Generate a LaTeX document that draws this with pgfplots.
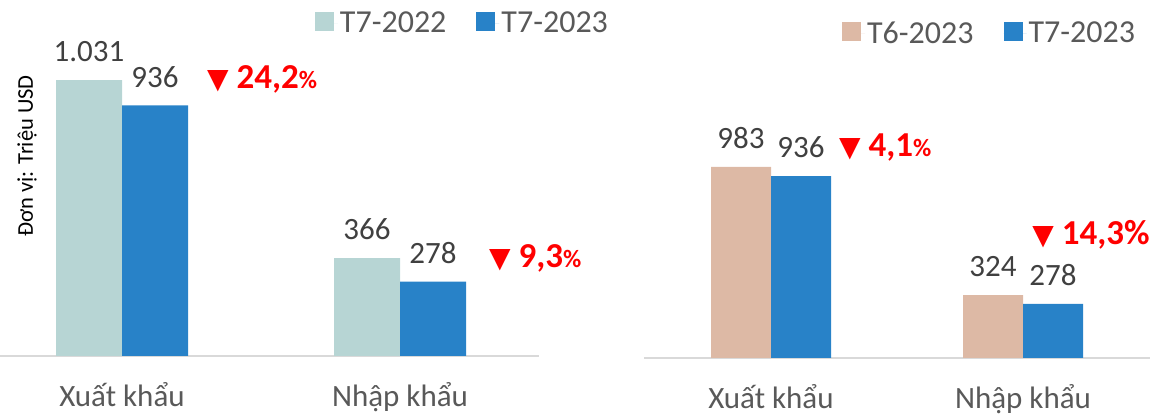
\documentclass[border=0pt]{standalone}
\usepackage{fontspec}
\setmainfont{Carlito}
\newfontfamily\symfont{DejaVu Sans}
\usepackage{pgfplots}
\pgfplotsset{compat=1.18}
\usepackage{pgfplotstable}

\definecolor{teal1}{HTML}{B7D5D4}
\definecolor{blue1}{HTML}{2882C8}
\definecolor{tan1}{HTML}{DDB9A5}
\definecolor{axgray}{HTML}{D9D9D9}
\definecolor{txt}{HTML}{404040}
\definecolor{lab}{HTML}{595959}
\definecolor{redd}{HTML}{FF0000}
\newcommand\fs[1]{\fontsize{#1}{#1}\selectfont}
\newcommand\down{{\symfont\fs{28}\char"25BC}}

\pgfplotstableread{
x y lab
0 1031 1.031
1 366 366
}\leftA
\pgfplotstableread{
x y lab
0 936 936
1 278 278
}\leftB
\pgfplotstableread{
x y lab
0 983 983
1 324 324
}\rightA
\pgfplotstableread{
x y lab
0 936 936
1 278 278
}\rightB

\pgfplotsset{
  panel/.style={
    scale only axis, anchor=south west, clip=false,
    ymin=0, ybar=0pt,
    axis x line*=bottom, axis y line=none,
    x axis line style={draw=axgray, line width=2pt, -},
    xtick={0,1}, xticklabels={Xuất khẩu, Nhập khẩu},
    xtick style={draw=none}, ytick=\empty,
    xticklabel style={font=\fs{31}, text=lab, anchor=base, yshift=-46pt},
    point meta=explicit symbolic,
    nodes near coords,
    nodes near coords style={font=\fs{31}, text=txt, anchor=south, inner sep=0pt, yshift=18pt},
    legend columns=2,
    legend image code/.code={\path (0pt,0pt) -- (23pt,0pt);\fill[##1] (0pt,-8pt) rectangle (19pt,11pt);},
    legend style={draw=none, fill=none, inner sep=0pt, anchor=south west,
      font=\fs{32}, text=lab,
      nodes={inner sep=2pt},
      /tikz/every even column/.append style={column sep=28pt}},
  },
}
\tikzset{ann/.style={anchor=base west, inner sep=0pt, text=redd}}

\begin{document}
\begin{tikzpicture}
\begin{axis}[panel, at={(0pt,58pt)}, width=539pt, height=321.2pt,
  xmin=-0.439, xmax=1.5, ymax=1200, bar width=66pt,
  legend style={at={(axis description cs:0.584,0.995)}}]
\addplot[fill=teal1, draw=none] table[x=x, y=y, meta=lab] {\leftA};
\addplot[fill=blue1, draw=none] table[x=x, y=y, meta=lab] {\leftB};
\legend{T7-2022, T7-2023}
\node[ann] at (axis description cs:0.384,0.834) {\down\hspace{8pt}{\fs{35}\bfseries 24,2}{\fs{25}\bfseries\%}};
\node[ann] at (axis description cs:0.907,0.277) {\down\hspace{8pt}{\fs{35}\bfseries 9,3}{\fs{25}\bfseries\%}};
\node[rotate=90, anchor=center, inner sep=0pt, font=\fs{22.5}] at (axis description cs:0.05,0.623) {Đơn vị: Triệu USD};
\end{axis}
\begin{axis}[panel, at={(644pt,56pt)}, width=506pt, height=310.9pt,
  xmin=-0.504, xmax=1.504, ymax=1600, bar width=60pt,
  legend style={at={(axis description cs:0.391,1.0)}}]
\addplot[fill=tan1, draw=none] table[x=x, y=y, meta=lab] {\rightA};
\addplot[fill=blue1, draw=none] table[x=x, y=y, meta=lab] {\rightB};
\legend{T6-2023, T7-2023}
\node[ann] at (axis description cs:0.385,0.6465) {\down\hspace{8pt}{\fs{35}\bfseries 4,1}{\fs{25}\bfseries\%}};
\node[ann] at (axis description cs:0.767,0.3635) {\down\hspace{8pt}{\fs{35}\bfseries 14,3\%}};
\end{axis}
\pgfresetboundingbox
\path[use as bounding box] (0pt,0pt) rectangle (1160pt,414pt);
\end{tikzpicture}
\end{document}
